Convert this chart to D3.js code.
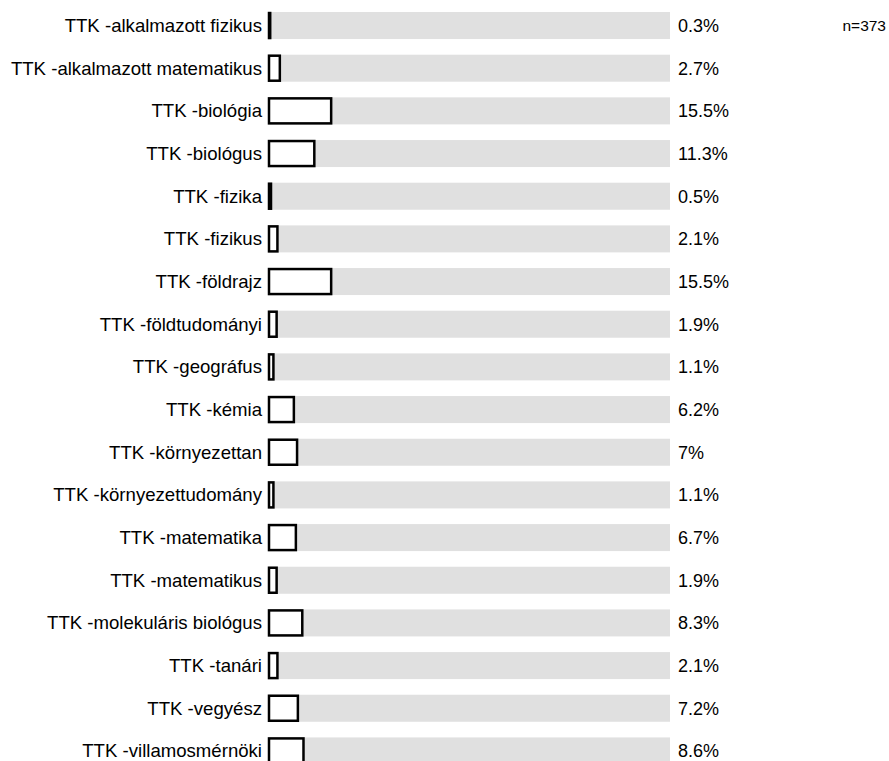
<!DOCTYPE html>
<html>
<head>
<meta charset="utf-8">
<script src="https://cdn.jsdelivr.net/npm/d3@7"></script>
<style>
  body { margin: 0; background: #fff; }
  text { font-family: "Liberation Sans", Arial, sans-serif; fill: #000; }
</style>
</head>
<body>
<div id="chart"></div>
<script>
// Chart data
var categories = [
  "TTK -alkalmazott fizikus",
  "TTK -alkalmazott matematikus",
  "TTK -biológia",
  "TTK -biológus",
  "TTK -fizika",
  "TTK -fizikus",
  "TTK -földrajz",
  "TTK -földtudományi",
  "TTK -geográfus",
  "TTK -kémia",
  "TTK -környezettan",
  "TTK -környezettudomány",
  "TTK -matematika",
  "TTK -matematikus",
  "TTK -molekuláris biológus",
  "TTK -tanári",
  "TTK -vegyész",
  "TTK -villamosmérnöki"
];
var values = [0.3, 2.7, 15.5, 11.3, 0.5, 2.1, 15.5, 1.9, 1.1, 6.2, 7, 1.1, 6.7, 1.9, 8.3, 2.1, 7.2, 8.6];
var sampleLabel = "n=373";

var svgWidth = 889;
var svgHeight = 761;

var svg = d3.select("#chart")
  .append("svg")
  .attr("width", svgWidth)
  .attr("height", svgHeight);

// Scales
var xScale = d3.scaleLinear()
  .domain([0, 100])
  .range([269, 670]);

var step = 42.67;
var yScale = d3.scaleBand()
  .domain(categories)
  .range([4.2, 4.2 + step * categories.length])
  .paddingInner(0.367)
  .paddingOuter(0.1835);

var rows = svg.selectAll("g.row")
  .data(categories)
  .enter()
  .append("g")
  .attr("class", "row");

// background bars (full 100%)
rows.append("rect")
  .attr("x", xScale(0))
  .attr("y", function(d) { return yScale(d); })
  .attr("width", xScale(100) - xScale(0))
  .attr("height", yScale.bandwidth())
  .attr("fill", "#e0e0e0");

// value bars
rows.append("rect")
  .attr("x", xScale(0))
  .attr("y", function(d) { return yScale(d) + 1; })
  .attr("width", function(d, i) { return Math.max(xScale(values[i]) - xScale(0), 0.5); })
  .attr("height", yScale.bandwidth() - 2)
  .attr("fill", "#fff")
  .attr("stroke", "#000")
  .attr("stroke-width", 2.5);

// category labels
rows.append("text")
  .attr("x", xScale(0) - 7)
  .attr("y", function(d) { return yScale(d) + yScale.bandwidth() / 2; })
  .attr("dy", "0.35em")
  .attr("text-anchor", "end")
  .attr("font-size", "18.6px")
  .text(function(d) { return d; });

// value labels
rows.append("text")
  .attr("x", xScale(100) + 8)
  .attr("y", function(d) { return yScale(d) + yScale.bandwidth() / 2; })
  .attr("dy", "0.35em")
  .attr("font-size", "18px")
  .text(function(d, i) { return values[i] + "%"; });

// sample size
svg.append("text")
  .attr("x", 886)
  .attr("y", yScale(categories[0]) + yScale.bandwidth() / 2)
  .attr("dy", "0.35em")
  .attr("text-anchor", "end")
  .attr("font-size", "15.5px")
  .text(sampleLabel);
</script>
</body>
</html>
